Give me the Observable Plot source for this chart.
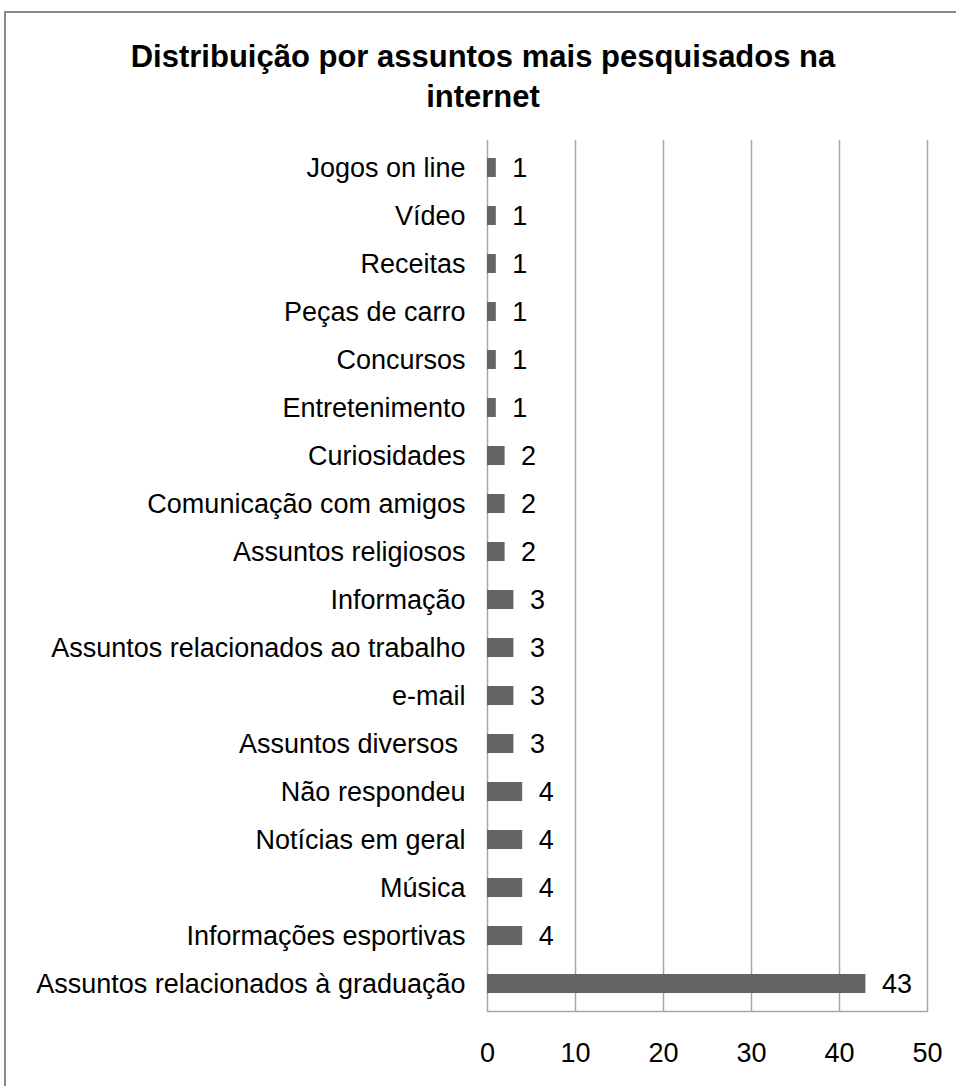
<!DOCTYPE html>
<html>
<head>
<meta charset="utf-8">
<script src="https://cdn.jsdelivr.net/npm/d3@7"></script>
<script src="https://cdn.jsdelivr.net/npm/@observablehq/plot@0.6"></script>
<style>
  html, body { margin: 0; padding: 0; background: #fff; }
  #wrap { position: relative; width: 956px; height: 1086px; overflow: hidden; font-family: "Liberation Sans", Arial, sans-serif; }
  #border { position: absolute; left: 4px; top: 11px; width: 2000px; height: 2000px; border-top: 2px solid #8a8a8a; border-left: 2px solid #8a8a8a; }
  #title { position: absolute; left: 0; top: 37px; width: 966px; text-align: center; font-size: 31px; line-height: 40px; font-weight: bold; color: #000; }
  #chart { position: absolute; left: 0; top: 130px; }
</style>
</head>
<body>
<div id="wrap">
  <div id="border"></div>
  <div id="title">Distribuição por assuntos mais pesquisados na<br>internet</div>
  <div id="chart"></div>
</div>
<script>
const categories = [
  "Jogos on line",
  "Vídeo",
  "Receitas",
  "Peças de carro",
  "Concursos",
  "Entretenimento",
  "Curiosidades",
  "Comunicação com amigos",
  "Assuntos religiosos",
  "Informação",
  "Assuntos relacionados ao trabalho",
  "e-mail",
  "Assuntos diversos\u00a0",
  "Não respondeu",
  "Notícias em geral",
  "Música",
  "Informações esportivas",
  "Assuntos relacionados à graduação"
];
const values = [1, 1, 1, 1, 1, 1, 2, 2, 2, 3, 3, 3, 3, 4, 4, 4, 4, 43];
const xTicks = [0, 10, 20, 30, 40, 50];

const data = categories.map((c, i) => ({category: c, value: values[i]}));

const chart = Plot.plot({
  width: 956,
  height: 956,
  marginTop: 10,
  marginBottom: 75,
  marginLeft: 487,
  marginRight: 29,
  style: {fontFamily: "'Liberation Sans', Arial, sans-serif", fontSize: "27px", color: "#000", background: "transparent"},
  x: {domain: [0, 50], ticks: xTicks, label: null},
  y: {domain: categories, paddingInner: 0.61, paddingOuter: 0.305, label: null},
  marks: [
    Plot.gridX(xTicks, {stroke: "#a6a6a6", strokeOpacity: 1, strokeWidth: 1.5}),
    Plot.frame({anchor: "bottom", stroke: "#a6a6a6", strokeWidth: 1.5}),
    Plot.barX(data, {x: "value", y: "category", fill: "#646464"}),
    Plot.text(data, {x: "value", y: "category", text: d => String(d.value), dx: 16, textAnchor: "start", fill: "#000", fontSize: 27}),
    Plot.axisX({ticks: xTicks, tickSize: 0, tickPadding: 31, fontSize: 27, label: null, fill: "#000"}),
    Plot.axisY({tickSize: 0, tickPadding: 22, fontSize: 27, label: null, fill: "#000"})
  ]
});
document.getElementById("chart").appendChild(chart);
</script>
</body>
</html>
